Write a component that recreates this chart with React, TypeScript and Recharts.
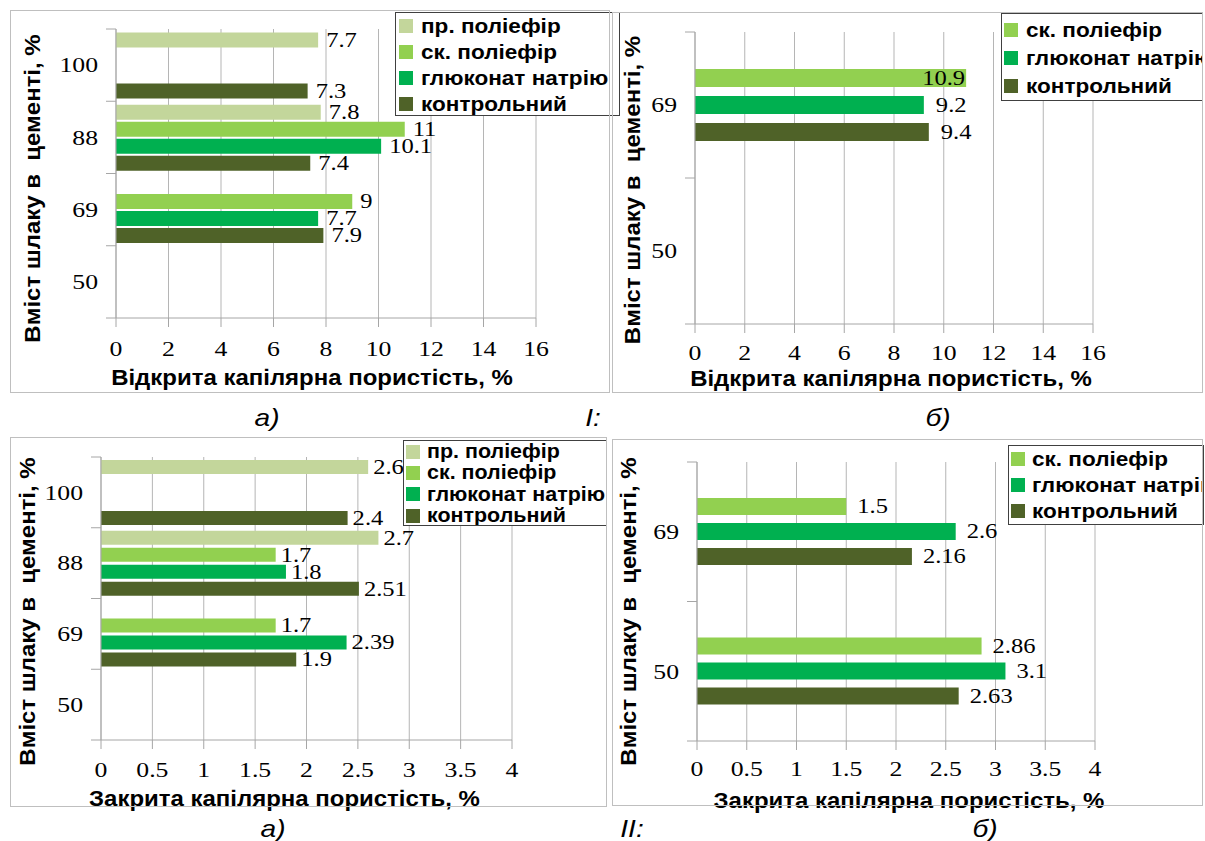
import React from 'react';
import { BarChart, Bar, XAxis, YAxis, CartesianGrid, Legend, LabelList, Label } from 'recharts';

// ---------------- data ----------------
const slagContentA = ['100', '88', '69', '50'];
const slagContentB = ['69', '50'];

const nameProst = 'пр. поліефір';
const nameSkl = 'ск. поліефір';
const nameGluc = 'глюконат натрію';
const nameCtrl = 'контрольний';

// I а) open capillary porosity, %
const openA_pr = [7.7, 7.8, null, null];
const openA_sk = [null, 11, 9, null];
const openA_gl = [null, 10.1, 7.7, null];
const openA_ctrl = [7.3, 7.4, 7.9, null];

// I б) open capillary porosity, %
const openB_sk = [10.9, null];
const openB_gl = [9.2, null];
const openB_ctrl = [9.4, null];

// II а) closed capillary porosity, %
const closedA_pr = [2.6, 2.7, null, null];
const closedA_sk = [null, 1.7, 1.7, null];
const closedA_gl = [null, 1.8, 2.39, null];
const closedA_ctrl = [2.4, 2.51, 1.9, null];

// II б) closed capillary porosity, %
const closedB_sk = [1.5, 2.86];
const closedB_gl = [2.6, 3.1];
const closedB_ctrl = [2.16, 2.63];

const openTicks = [0, 2, 4, 6, 8, 10, 12, 14, 16];
const closedTicks = [0, 0.5, 1, 1.5, 2, 2.5, 3, 3.5, 4];

const yTitle = 'Вміст шлаку в \u00A0цементі, %';
const xTitleOpen = 'Відкрита капілярна пористість, %';
const xTitleClosed = 'Закрита капілярна пористість, %';

// ---------------- styles ----------------
const SERIF = '"Liberation Serif", "DejaVu Serif", serif';
const CYR = '"Liberation Sans", Arial, "Noto Sans", sans-serif';
const SANS = '"Liberation Sans", Arial, sans-serif';
const SX = 1.17;
const SX_TITLE = 1.09;
const SX_LEG = 1.1;
const AXIS_GREY = '#a6a6a6';
const GRID_GREY = '#b5b5b5';
const COLORS: Record<string, string> = {
  pr: '#C3D69B',
  sk: '#92D050',
  gl: '#00B050',
  ctrl: '#4F6228',
};
const NAMES: Record<string, string> = { pr: nameProst, sk: nameSkl, gl: nameGluc, ctrl: nameCtrl };

const buildRows = (cats: string[], series: Record<string, (number | null)[]>) =>
  cats.map((c, i) => {
    const row: any = { slag: c };
    Object.keys(series).forEach((k) => {
      row[k] = series[k][i];
    });
    return row;
  });

const EXTRA = 12;

const panels = [
  {
    id: 'Ia',
    left: 10, top: 10, width: 600, height: 383,
    margin: { top: 19, right: 74, bottom: 0, left: 0 },
    yWidth: 106, xHeight: 75,
    catGap: 3.5, barGap: 2, labelOffset: 8,
    rows: buildRows(slagContentA, { pr: openA_pr, sk: openA_sk, gl: openA_gl, ctrl: openA_ctrl }),
    keys: ['pr', 'sk', 'gl', 'ctrl'],
    inside: [] as string[],
    domain: [0, 16], ticks: openTicks,
    xTickCenter: 31, xTitle: xTitleOpen, xTitleDx: -14, xTitleDy: 59,
    yTitleDx: -84, yTitleDy: 15,
    legend: { left: 385, top: 2, w: 225, h: 104, rowH: 26, pt: 0, swLeft: 3, textLeft: 25, font: 20.5 },
  },
  {
    id: 'Ib',
    left: 612, top: 12, width: 591, height: 381,
    margin: { top: 20, right: 110, bottom: 0, left: 0 },
    yWidth: 83, xHeight: 69,
    catGap: 37, barGap: 9, labelOffset: 12,
    rows: buildRows(slagContentB, { sk: openB_sk, gl: openB_gl, ctrl: openB_ctrl }),
    keys: ['sk', 'gl', 'ctrl'],
    inside: ['sk'],
    domain: [0, 16], ticks: openTicks,
    xTickCenter: 29, xTitle: xTitleOpen, xTitleDx: -3, xTitleDy: 54,
    yTitleDx: -63, yTitleDy: 12,
    legend: { left: 389, top: 1, w: 202, h: 88, rowH: 28, pt: 2, swLeft: 2, textLeft: 24, font: 20.5 },
  },
  {
    id: 'IIa',
    left: 10, top: 437, width: 597, height: 370,
    margin: { top: 20, right: 95, bottom: 0, left: 0 },
    yWidth: 91, xHeight: 67,
    catGap: 3, barGap: 3, labelOffset: 5,
    rows: buildRows(slagContentA, { pr: closedA_pr, sk: closedA_sk, gl: closedA_gl, ctrl: closedA_ctrl }),
    keys: ['pr', 'sk', 'gl', 'ctrl'],
    inside: [] as string[],
    domain: [0, 4], ticks: closedTicks,
    xTickCenter: 30, xTitle: xTitleClosed, xTitleDx: -22, xTitleDy: 58,
    yTitleDx: -74, yTitleDy: 13,
    legend: { left: 393, top: 3, w: 204, h: 86, rowH: 21.3, pt: 0, swLeft: 2, textLeft: 23, font: 19.5 },
  },
  {
    id: 'IIb',
    left: 612, top: 439, width: 591, height: 367,
    margin: { top: 23, right: 108, bottom: 0, left: 0 },
    yWidth: 85, xHeight: 65,
    catGap: 36, barGap: 8, labelOffset: 11,
    rows: buildRows(slagContentB, { sk: closedB_sk, gl: closedB_gl, ctrl: closedB_ctrl }),
    keys: ['sk', 'gl', 'ctrl'],
    inside: [] as string[],
    domain: [0, 4], ticks: closedTicks,
    xTickCenter: 28, xTitle: xTitleClosed, xTitleDx: 13, xTitleDy: 59,
    yTitleDx: -69, yTitleDy: 10,
    legend: { left: 396, top: 6, w: 196, h: 80, rowH: 26, pt: 0, swLeft: 2, textLeft: 23, font: 20.5 },
  },
];

const Y_TICK_MARGIN = 18;
const X_TICK_SIZE = 9;
const Y_BOUNDARY_TICK = 10;

const YTick = (props: any) => {
  const { x, y, payload, index, visibleTicksCount } = props;
  const axisX = x + Y_TICK_MARGIN;
  const half = payload && typeof payload.offset === 'number' ? payload.offset : null;
  return (
    <g>
      {half !== null && (
        <line x1={axisX - Y_BOUNDARY_TICK} x2={axisX} y1={y - half} y2={y - half} stroke={AXIS_GREY} strokeWidth={1} />
      )}
      {half !== null && index === visibleTicksCount - 1 && (
        <line x1={axisX - Y_BOUNDARY_TICK} x2={axisX} y1={y + half} y2={y + half} stroke={AXIS_GREY} strokeWidth={1} />
      )}
      <text
        transform={`translate(${x},${y}) scale(${SX},1)`}
        textAnchor="end"
        dominantBaseline="central"
        fontFamily={SERIF}
        fontSize={22}
        fill="#000"
      >
        {payload.value}
      </text>
    </g>
  );
};

const XTick = (props: any) => {
  const { x, y, payload } = props;
  return (
    <text
      transform={`translate(${x},${y}) scale(${SX},1)`}
      textAnchor="middle"
      dominantBaseline="central"
      fontFamily={SERIF}
      fontSize={22}
      fill="#000"
    >
      {payload.value}
    </text>
  );
};

const makeValueLabel = (offset: number, inside: boolean) => (props: any) => {
  const vb = props.viewBox && typeof props.viewBox.width === 'number' ? props.viewBox : props;
  const { x, y, width, height } = vb;
  const v = props.value;
  if (v === null || v === undefined || !isFinite(x)) return null;
  const tx = inside ? x + width - 1 : x + width + offset;
  return (
    <text
      transform={`translate(${tx},${y + height / 2}) scale(${SX},1)`}
      textAnchor={inside ? 'end' : 'start'}
      dominantBaseline="central"
      fontFamily={SERIF}
      fontSize={21}
      fill="#000"
    >
      {v}
    </text>
  );
};

const makeXTitle = (text: string, dx: number, dy: number) => (props: any) => {
  const vb = props.viewBox || {};
  const cx = vb.x + vb.width / 2 + dx;
  const cy = vb.y + dy;
  return (
    <text
      transform={`translate(${cx},${cy}) scale(${SX_TITLE},1)`}
      textAnchor="middle"
      dominantBaseline="central"
      fontFamily={CYR}
      fontWeight="bold"
      fontSize={22}
      fill="#000"
    >
      {text}
    </text>
  );
};

const makeYTitle = (text: string, dx: number, dy: number) => (props: any) => {
  const vb = props.viewBox || {};
  const cx = vb.x + vb.width + dx;
  const cy = vb.y + vb.height / 2 + dy;
  return (
    <text
      transform={`translate(${cx},${cy}) rotate(-90) scale(${SX_TITLE},1)`}
      textAnchor="middle"
      dominantBaseline="central"
      fontFamily={CYR}
      fontWeight="bold"
      fontSize={22}
      fill="#000"
      style={{ whiteSpace: 'pre' }}
    >
      {text}
    </text>
  );
};

const makeLegend = (keys: string[], box: any) => (props: any) => {
  const payload: any[] = (props.payload || []).slice();
  const order = keys.map((k) => NAMES[k]);
  payload.sort((a, b) => order.indexOf(a.value) - order.indexOf(b.value));
  return (
    <div
      style={{
        width: box.w,
        height: box.h,
        boxSizing: 'border-box',
        border: '1.5px solid #404040',
        background: '#fff',
        overflow: 'hidden',
        paddingTop: box.pt,
      }}
    >
      {payload.map((item) => (
        <div key={item.value} style={{ position: 'relative', height: box.rowH }}>
          <span
            style={{
              position: 'absolute',
              left: box.swLeft,
              top: box.rowH / 2 - 7,
              width: 14,
              height: 14,
              background: item.color,
            }}
          />
          <span
            style={{
              position: 'absolute',
              left: box.textLeft,
              top: 0,
              height: box.rowH,
              lineHeight: `${box.rowH}px`,
              whiteSpace: 'nowrap',
              fontFamily: CYR,
              fontWeight: 'bold',
              fontSize: box.font,
              color: '#000',
              transform: `scaleX(${SX_LEG})`,
              transformOrigin: 'left center',
            }}
          >
            {item.value}
          </span>
        </div>
      ))}
    </div>
  );
};

const Panel = ({ cfg }: { cfg: any }) => (
  <div
    style={{
      position: 'absolute',
      left: cfg.left,
      top: cfg.top,
      width: cfg.width,
      height: cfg.height,
    }}
  >
    <BarChart
      layout="vertical"
      width={cfg.width}
      height={cfg.height + EXTRA}
      data={cfg.rows}
      margin={cfg.margin}
      barCategoryGap={cfg.catGap}
      barGap={cfg.barGap}
    >
      <CartesianGrid horizontal={false} stroke={GRID_GREY} strokeWidth={1} />
      <XAxis
        type="number"
        domain={cfg.domain}
        ticks={cfg.ticks}
        interval={0}
        allowDataOverflow
        height={cfg.xHeight + EXTRA}
        tickSize={X_TICK_SIZE}
        tickMargin={cfg.xTickCenter - X_TICK_SIZE}
        axisLine={{ stroke: AXIS_GREY }}
        tickLine={{ stroke: AXIS_GREY }}
        tick={XTick}
      >
        <Label content={makeXTitle(cfg.xTitle, cfg.xTitleDx, cfg.xTitleDy)} />
      </XAxis>
      <YAxis
        type="category"
        dataKey="slag"
        width={cfg.yWidth}
        interval={0}
        tickSize={0}
        tickMargin={Y_TICK_MARGIN}
        tickLine={false}
        axisLine={{ stroke: AXIS_GREY }}
        tick={YTick}
      >
        <Label content={makeYTitle(yTitle, cfg.yTitleDx, cfg.yTitleDy)} />
      </YAxis>
      <Legend
        layout="vertical"
        align="center"
        verticalAlign="middle"
        content={makeLegend(cfg.keys, cfg.legend)}
        wrapperStyle={{ left: cfg.legend.left, top: cfg.legend.top, width: cfg.legend.w, height: cfg.legend.h }}
      />
      {cfg.keys.map((k: string) => (
        <Bar key={k} dataKey={k} name={NAMES[k]} fill={COLORS[k]} isAnimationActive={false}>
          <LabelList dataKey={k} content={makeValueLabel(cfg.labelOffset, cfg.inside.includes(k))} />
        </Bar>
      ))}
    </BarChart>
    <div
      style={{
        position: 'absolute',
        left: 0,
        top: 0,
        width: cfg.width,
        height: cfg.height,
        boxSizing: 'border-box',
        border: '1px solid #bfbfbf',
        pointerEvents: 'none',
      }}
    />
  </div>
);

const captions = [
  { text: 'а)', cx: 267, cy: 418 },
  { text: 'І:', cx: 593, cy: 418 },
  { text: 'б)', cx: 938, cy: 418 },
  { text: 'а)', cx: 273, cy: 829 },
  { text: 'ІІ:', cx: 632, cy: 829 },
  { text: 'б)', cx: 985, cy: 829 },
];

export default function App() {
  return (
    <div
      style={{
        position: 'absolute',
        left: 0,
        top: 0,
        width: 1205,
        height: 841,
        background: '#fff',
        overflow: 'hidden',
      }}
    >
      {panels.map((p) => (
        <Panel key={p.id} cfg={p} />
      ))}
      {captions.map((c, i) => (
        <div
          key={i}
          style={{
            position: 'absolute',
            left: c.cx - 40,
            top: c.cy - 15,
            width: 80,
            height: 30,
            lineHeight: '30px',
            textAlign: 'center',
            fontFamily: SANS,
            fontStyle: 'italic',
            fontSize: 24,
            color: '#000',
            transform: `scaleX(${SX})`,
          }}
        >
          {c.text}
        </div>
      ))}
    </div>
  );
}
